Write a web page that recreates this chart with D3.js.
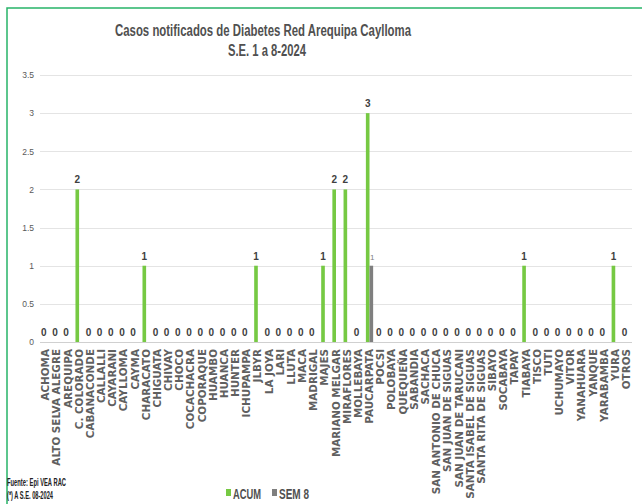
<!DOCTYPE html>
<html>
<head>
<meta charset="utf-8">
<script src="https://cdn.jsdelivr.net/npm/d3@7"></script>
<style>
  body { margin: 0; background: #fff; }
</style>
</head>
<body>
<div id="chart"></div>
<script>
// Data
const districts = ['ACHOMA', 'ALTO SELVA ALEGRE', 'AREQUIPA', 'C. COLORADO', 'CABANACONDE', 'CALLALLI',
    'CAYARANI', 'CAYLLOMA', 'CAYMA', 'CHARACATO', 'CHIGUATA', 'CHIVAY', 'CHOCO', 'COCACHACRA',
    'COPORAQUE', 'HUAMBO', 'HUANCA', 'HUNTER', 'ICHUPAMPA', 'JLBYR', 'LA JOYA', 'LARI', 'LLUTA',
    'MACA', 'MADRIGAL', 'MAJES', 'MARIANO MELGAR', 'MIRAFLORES', 'MOLLEBAYA', 'PAUCARPATA', 'POCSI',
    'POLOBAYA', 'QUEQUEÑA', 'SABANDIA', 'SACHACA', 'SAN ANTONIO DE CHUCA', 'SAN JUAN DE SIGUAS',
    'SAN JUAN DE TARUCANI', 'SANTA ISABEL DE SIGUAS', 'SANTA RITA DE SIGUAS', 'SIBAYO', 'SOCABAYA',
    'TAPAY', 'TIABAYA', 'TISCO', 'TUTI', 'UCHUMAYO', 'VITOR', 'YANAHUARA', 'YANQUE', 'YARABAMBA',
    'YURA', 'OTROS'];

const acumValues = [0, 0, 0, 2, 0, 0, 0, 0, 0, 1,
    0, 0, 0, 0, 0, 0, 0, 0, 0, 1,
    0, 0, 0, 0, 0, 1, 2, 2, 0, 3,
    0, 0, 0, 0, 0, 0, 0, 0, 0, 0,
    0, 0, 0, 1, 0, 0, 0, 0, 0, 0,
    0, 1, 0];
const sem8Values = [0, 0, 0, 0, 0, 0, 0, 0, 0, 0,
    0, 0, 0, 0, 0, 0, 0, 0, 0, 0,
    0, 0, 0, 0, 0, 0, 0, 0, 0, 1,
    0, 0, 0, 0, 0, 0, 0, 0, 0, 0,
    0, 0, 0, 0, 0, 0, 0, 0, 0, 0,
    0, 0, 0];

const series = ['ACUM', 'SEM 8'];
const seriesColors = ['#76c943', '#7f7f7f'];
const yTicks = [0, 0.5, 1, 1.5, 2, 2.5, 3, 3.5];

const titleLine1 = 'Casos notificados de Diabetes  Red Arequipa Caylloma';
const titleLine2 = 'S.E. 1 a  8-2024';

const W = 642, H = 504;
const narrow = '"Liberation Sans Narrow", "Liberation Sans", sans-serif';

const svg = d3.select('#chart')
    .append('svg')
    .attr('width', W)
    .attr('height', H);

svg.append('rect').attr('width', W).attr('height', H).attr('fill', '#fff');

// green frame
svg.append('rect')
    .attr('x', 7).attr('y', 8)
    .attr('width', 700).attr('height', 600)
    .attr('fill', 'none')
    .attr('stroke', '#27b468')
    .attr('stroke-width', 1.5);

// Titles
svg.append('text')
    .attr('x', 263).attr('y', 36)
    .attr('text-anchor', 'middle')
    .attr('textLength', 296).attr('lengthAdjust', 'spacingAndGlyphs')
    .style('font-family', narrow)
    .style('font-size', '16px')
    .style('font-weight', 'bold')
    .attr('fill', '#505050')
    .text(titleLine1);

svg.append('text')
    .attr('x', 267).attr('y', 56)
    .attr('text-anchor', 'middle')
    .attr('textLength', 78).attr('lengthAdjust', 'spacingAndGlyphs')
    .style('font-family', narrow)
    .style('font-size', '16px')
    .style('font-weight', 'bold')
    .attr('fill', '#505050')
    .text(titleLine2);

// Scales
const x0 = d3.scaleBand()
    .domain(districts)
    .range([40, 632])
    .paddingInner(0.35)
    .paddingOuter(0.175);

const x1 = d3.scaleBand()
    .domain(series)
    .range([0, x0.bandwidth()]);

const y = d3.scaleLinear()
    .domain([0, 3.5])
    .range([342, 75]);

// Gridlines
svg.append('g')
    .selectAll('line')
    .data(yTicks)
    .enter()
    .append('line')
    .attr('x1', 40).attr('x2', 632)
    .attr('y1', d => Math.round(y(d)) + 0.5)
    .attr('y2', d => Math.round(y(d)) + 0.5)
    .attr('stroke', d => d === 0 ? '#d0d0d0' : '#e4e4e4')
    .attr('stroke-width', 1);

// Y axis labels
const yAxis = svg.append('g')
    .attr('transform', 'translate(40,0)')
    .call(d3.axisLeft(y).tickValues(yTicks).tickSize(0).tickPadding(6).tickFormat(d3.format('')));
yAxis.select('.domain').remove();
yAxis.selectAll('text')
    .style('font-family', narrow)
    .style('font-size', '8.5px')
    .attr('fill', '#595959');

// X axis
const xAxis = svg.append('g')
    .attr('transform', 'translate(0,342)')
    .call(d3.axisBottom(x0).tickSize(0));
xAxis.select('.domain').remove();
xAxis.selectAll('text')
    .attr('transform', 'rotate(-90)')
    .attr('x', -7)
    .attr('y', 0)
    .attr('dy', '0.35em')
    .style('text-anchor', 'end')
    .style('font-family', '"DejaVu Sans", Verdana, sans-serif')
    .style('font-weight', 'bold')
    .style('font-size', '10.4px')
    .attr('fill', '#606060');

// Bars
const rows = districts.map((d, i) => ({district: d, values: [acumValues[i], sem8Values[i]]}));

const groups = svg.append('g')
    .selectAll('g')
    .data(rows)
    .enter()
    .append('g')
    .attr('transform', d => `translate(${x0(d.district)},0)`);

groups.selectAll('rect')
    .data(d => d.values.map((v, k) => ({key: series[k], value: v, k})))
    .enter()
    .append('rect')
    .attr('x', d => x1(d.key))
    .attr('y', d => y(d.value))
    .attr('width', x1.bandwidth())
    .attr('height', d => y(0) - y(d.value))
    .attr('fill', d => seriesColors[d.k]);

// ACUM labels
groups.append('text')
    .attr('x', x1('ACUM') + x1.bandwidth() / 2)
    .attr('y', d => y(d.values[0]) - 6)
    .attr('text-anchor', 'middle')
    .style('font-family', narrow)
    .style('font-weight', 'bold')
    .style('font-size', '10px')
    .attr('fill', '#404040')
    .text(d => d.values[0]);

// SEM 8 labels (only non-zero)
groups.filter(d => d.values[1] > 0)
    .append('text')
    .attr('x', x1('SEM 8') + x1.bandwidth() / 2 + 1)
    .attr('y', d => y(d.values[1]) - 6)
    .attr('text-anchor', 'middle')
    .style('font-family', narrow)
    .style('font-size', '8px')
    .attr('fill', '#7f7f7f')
    .text(d => d.values[1]);

// Legend
const legendX = [226, 272];
const legend = svg.append('g');
series.forEach((s, k) => {
    legend.append('rect')
        .attr('x', legendX[k]).attr('y', 489)
        .attr('width', 5).attr('height', 7)
        .attr('fill', seriesColors[k]);
    legend.append('text')
        .attr('x', legendX[k] + 7).attr('y', 499)
        .attr('textLength', k === 0 ? 28 : 30).attr('lengthAdjust', 'spacingAndGlyphs')
        .style('font-family', narrow)
        .style('font-size', '15px')
        .style('font-weight', 'bold')
        .attr('fill', '#505050')
        .text(s);
});

// Footnote
svg.append('text')
    .attr('x', 7).attr('y', 486)
    .attr('textLength', 59).attr('lengthAdjust', 'spacingAndGlyphs')
    .style('font-family', narrow)
    .style('font-weight', 'bold')
    .style('font-size', '10px')
    .attr('fill', '#222')
    .text('Fuente: Epi VEA RAC');

svg.append('text')
    .attr('x', 7).attr('y', 499)
    .attr('textLength', 46).attr('lengthAdjust', 'spacingAndGlyphs')
    .style('font-family', narrow)
    .style('font-weight', 'bold')
    .style('font-size', '10px')
    .attr('fill', '#222')
    .text('(*) A S.E. 08-2024');
</script>
</body>
</html>
